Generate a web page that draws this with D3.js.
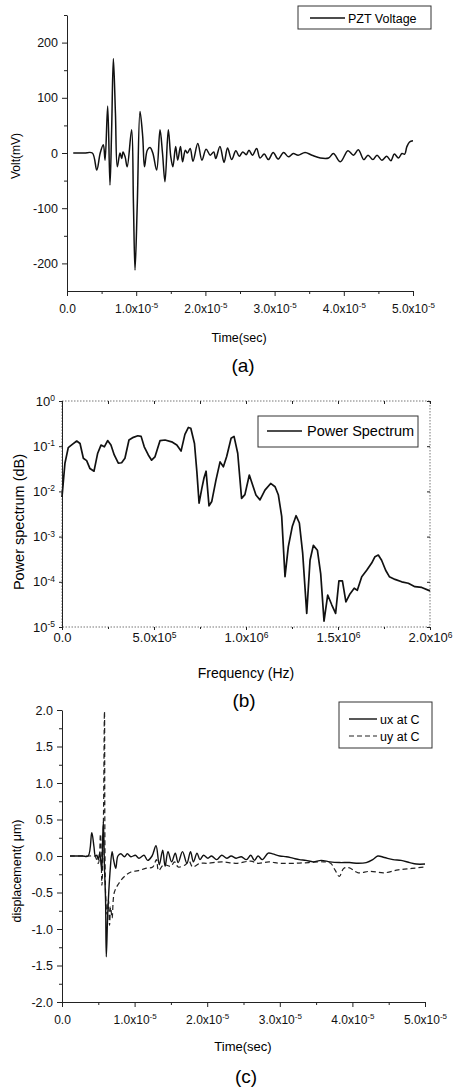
<!DOCTYPE html>
<html>
<head>
<meta charset="utf-8">
<script src="https://cdn.jsdelivr.net/npm/d3@7"></script>
<style>
  body { margin: 0; background: #fff; }
  svg { font-family: Arial, "Liberation Sans", Helvetica, sans-serif; }
  .axis path, .axis line { stroke: #222; }
  .axis text { fill: #111; }
  .frame { fill: none; stroke: #777; stroke-dasharray: 1.5,1.5; }
</style>
</head>
<body>
<svg id="chart" width="457" height="1090"></svg>
<script>
// time values are in units of 1e-5 s, frequency in units of 1e5 Hz

// (a) PZT voltage [t, mV]
const voltage = [
  [0.09, 0], [0.25, 0], [0.366, 0], [0.43, -31], [0.48, 0], [0.525, 15], [0.55, -13], [0.588, 85],
  [0.621, -58], [0.645, 42], [0.67, 171], [0.70, 72], [0.727, -25], [0.766, 0], [0.79, -10],
  [0.81, 2], [0.84, -7], [0.87, -25], [0.934, 42], [0.96, -91], [0.983, -212], [1.016, -91],
  [1.055, 75], [1.094, 30], [1.12, -25], [1.16, 5], [1.2, 10], [1.24, 0], [1.296, -31],
  [1.344, 42], [1.38, 0], [1.416, -52], [1.464, 42], [1.5, -7], [1.53, -25], [1.57, 12],
  [1.6, -13], [1.64, 12], [1.67, -16], [1.71, 5], [1.74, 0], [1.78, 8], [1.82, -15],
  [1.89, 17], [1.95, -13], [2.01, 7], [2.07, -4], [2.12, 2], [2.15, -10], [2.21, 12],
  [2.27, -17], [2.32, 9], [2.38, -12], [2.44, 4], [2.49, -6], [2.54, 2], [2.59, -3],
  [2.63, 5], [2.68, -4], [2.74, 8], [2.79, -9], [2.85, -2], [2.91, -12], [2.98, 1],
  [3.05, -11], [3.13, 1], [3.20, -7], [3.27, -1], [3.34, -4], [3.44, 1], [3.54, -4],
  [3.66, -9], [3.78, -9], [3.85, -1], [3.95, -16], [4.06, 4], [4.14, -4], [4.21, 6],
  [4.29, -12], [4.35, -4], [4.42, -12], [4.48, -4], [4.55, -13], [4.62, -6], [4.68, -14],
  [4.73, -2], [4.79, -9], [4.84, -1], [4.88, -2], [4.91, 11], [4.95, 20], [5.0, 22]
]

// (b) power spectrum [f, value]
const spectrum = [
  [0, 0.0075], [0.16, 0.042], [0.34, 0.093], [0.56, 0.11], [0.8, 0.13], [0.98, 0.115],
  [1.16, 0.054], [1.34, 0.048], [1.52, 0.032], [1.74, 0.028], [1.94, 0.07], [2.12, 0.106],
  [2.3, 0.097], [2.48, 0.133], [2.66, 0.106], [2.84, 0.064], [3.06, 0.042], [3.24, 0.043],
  [3.42, 0.054], [3.64, 0.137], [3.88, 0.157], [4.12, 0.17], [4.3, 0.165], [4.47, 0.097],
  [4.69, 0.064], [4.87, 0.049], [5.05, 0.058], [5.33, 0.133], [5.6, 0.137], [5.96, 0.125],
  [6.24, 0.106], [6.47, 0.078], [6.68, 0.183], [6.87, 0.26], [7.0, 0.25], [7.2, 0.115],
  [7.33, 0.027], [7.45, 0.0055], [7.6, 0.0117], [7.72, 0.02], [7.83, 0.028], [7.99, 0.0048],
  [8.14, 0.006], [8.37, 0.018], [8.59, 0.045], [8.77, 0.035], [8.95, 0.059], [9.19, 0.15],
  [9.35, 0.165], [9.55, 0.07], [9.76, 0.007], [9.94, 0.0085], [10.18, 0.023], [10.54, 0.0083],
  [10.76, 0.0065], [11.03, 0.0107], [11.34, 0.015], [11.58, 0.0127], [11.76, 0.0083],
  [11.94, 0.0028], [12.12, 1.3e-4], [12.3, 6e-4], [12.52, 0.0017], [12.72, 0.0029],
  [12.9, 0.002], [13.08, 4.3e-4], [13.3, 2e-5], [13.48, 3e-4], [13.66, 6.4e-4], [13.88, 5e-4],
  [14.06, 1.5e-4], [14.24, 1.35e-5], [14.44, 5.1e-5], [14.66, 3.1e-5], [14.87, 2e-5],
  [15.05, 1.05e-4], [15.24, 1.05e-4], [15.43, 3.6e-5], [15.65, 5.4e-5], [15.88, 7.2e-5],
  [16.05, 6.5e-5], [16.29, 1.3e-4], [16.56, 1.8e-4], [16.83, 2.6e-4], [17.01, 3.6e-4],
  [17.19, 3.9e-4], [17.37, 3e-4], [17.59, 1.8e-4], [17.79, 1.3e-4], [18.1, 1.13e-4],
  [18.46, 1.0e-4], [18.82, 9.3e-5], [19.18, 7.8e-5], [19.55, 7.5e-5], [20, 6.3e-5]
]

// (c) displacement at C [t, um]
const ux = [
  [0.11, 0], [0.28, 0], [0.36, 0], [0.41, 0.32], [0.44, 0.13], [0.46, 0], [0.48, 0.01], [0.5, -0.05],
  [0.52, 0.04], [0.547, -0.19], [0.56, 0.22], [0.57, 0.47], [0.585, -0.15], [0.6, -0.6],
  [0.61, -1.38], [0.63, -0.79], [0.66, -0.24], [0.69, 0.06], [0.71, -0.05], [0.74, -0.17],
  [0.77, 0], [0.81, 0.03], [0.86, -0.01], [0.9, 0.03], [0.95, -0.01], [1.01, 0.01],
  [1.06, -0.03], [1.13, 0.01], [1.18, -0.06], [1.24, 0], [1.295, 0.14], [1.34, -0.12],
  [1.387, 0.08], [1.42, -0.14], [1.46, 0.06], [1.51, -0.08], [1.56, 0.04], [1.6, -0.09],
  [1.66, 0.06], [1.72, -0.1], [1.77, 0.06], [1.81, -0.08], [1.86, 0.04], [1.9, -0.05],
  [1.95, 0.01], [2.01, -0.03], [2.06, 0], [2.13, -0.05], [2.2, 0.01], [2.27, -0.03],
  [2.33, 0], [2.4, -0.03], [2.47, -0.01], [2.54, -0.05], [2.6, 0.01], [2.65, -0.06],
  [2.7, 0], [2.76, -0.05], [2.84, 0.04], [2.9, 0.03], [3.0, 0], [3.09, -0.01], [3.18, -0.03],
  [3.27, -0.05], [3.36, -0.06], [3.46, -0.08], [3.57, -0.06], [3.69, -0.08], [3.82, -0.09],
  [3.96, -0.09], [4.08, -0.1], [4.19, -0.09], [4.28, -0.05], [4.35, 0], [4.44, -0.02],
  [4.56, -0.05], [4.67, -0.06], [4.79, -0.09], [4.88, -0.11], [5.0, -0.11]
]
const uy = [
  [0.11, 0], [0.38, 0], [0.45, 0], [0.5, -0.1], [0.53, 0.3], [0.55, -0.4], [0.57, 0.45], [0.585, 1.98],
  [0.6, -0.5], [0.62, -0.8], [0.64, -0.6], [0.655, -0.95], [0.67, -0.7], [0.69, -0.85],
  [0.72, -0.5], [0.78, -0.38], [0.86, -0.28], [0.95, -0.22], [1.05, -0.2], [1.15, -0.17],
  [1.25, -0.15], [1.3, -0.05], [1.33, -0.2], [1.4, -0.12], [1.5, -0.14], [1.55, -0.08],
  [1.6, -0.15], [1.7, -0.12], [1.75, -0.07], [1.8, -0.15], [1.9, -0.1], [2.0, -0.1],
  [2.2, -0.08], [2.4, -0.1], [2.6, -0.07], [2.7, -0.1], [2.85, -0.08], [3.0, -0.1],
  [3.2, -0.1], [3.4, -0.09], [3.6, -0.08], [3.7, -0.1], [3.76, -0.19], [3.82, -0.28],
  [3.88, -0.17], [3.95, -0.16], [4.08, -0.23], [4.24, -0.21], [4.44, -0.23], [4.63, -0.19],
  [4.82, -0.17], [5.0, -0.15]
]

// tick values
const timeTicks = [0, 1, 2, 3, 4, 5]
const timeMinor = [0.5, 1.5, 2.5, 3.5, 4.5]
const voltTicks = [-200, -100, 0, 100, 200]
const voltMinor = [-150, -50, 50, 150, 250]
const freqTicks = [0, 5, 10, 15, 20]
const freqMinor = [2.5, 7.5, 12.5, 17.5]
const freqMant = ['0.0', '5.0x10', '1.0x10', '1.5x10', '2.0x10']
const freqExp = ['', '5', '6', '6', '6']
const specTicks = [1, 1e-1, 1e-2, 1e-3, 1e-4, 1e-5]
const dispTicks = [-2, -1.5, -1, -0.5, 0, 0.5, 1, 1.5, 2]
const dispMinor = [-1.75, -1.25, -0.75, -0.25, 0.25, 0.75, 1.25, 1.75]

const svg = d3.select('#chart')
const hyphen = f => d => f(d).replace('\u2212', '-')

// put a superscript after the mantissa of a tick label
function sup(sel, mant, exp, size) {
  sel.text(null)
  sel.append('tspan').text(mant)
  if (exp) {
    sel.append('tspan')
      .attr('dy', '-0.55em')
      .attr('font-size', size)
      .text(exp)
  }
}

function timeLabel(sel) {
  sel.each(function (d) {
    const t = d3.select(this)
    if (d === 0) sup(t, '0.0')
    else sup(t, d.toFixed(1) + 'x10', '-5', 8)
  })
}

function minorAxis(g, axis, values, size) {
  g.append('g')
    .attr('class', 'axis')
    .call(axis.tickValues(values).tickSize(size).tickFormat('').tickSizeOuter(0))
    .call(s => s.select('.domain').remove())
}

function line(x, y, curve) {
  return d3.line().x(d => x(d[0])).y(d => y(d[1])).curve(curve || d3.curveLinear)
}

// ---------- (a) ----------
{
  const x = d3.scaleLinear().domain([0, 5]).range([67, 413])
  const y = d3.scaleLinear().domain([-250, 250]).range([291, 15])
  const g = svg.append('g')

  g.append('g')
    .attr('class', 'axis')
    .attr('transform', 'translate(0,291)')
    .call(d3.axisBottom(x).tickValues(timeTicks).tickSize(5).tickSizeOuter(0).tickPadding(8))
    .call(s => s.select('.domain').attr('stroke', '#666'))
    .call(s => s.selectAll('text').attr('font-size', 12).call(timeLabel))
  minorAxis(g.append('g').attr('transform', 'translate(0,291)'), d3.axisBottom(x), timeMinor, 3)

  g.append('g')
    .attr('class', 'axis')
    .attr('transform', 'translate(67,0)')
    .call(d3.axisLeft(y).tickValues(voltTicks).tickSize(5).tickSizeOuter(0).tickPadding(4)
      .tickFormat(hyphen(d3.format('d'))))
    .call(s => s.selectAll('text').attr('font-size', 12.5))
  minorAxis(g.append('g').attr('transform', 'translate(67,0)'), d3.axisLeft(y), voltMinor, 3)

  g.append('path')
    .datum(voltage)
    .attr('fill', 'none')
    .attr('stroke', '#111')
    .attr('stroke-width', 1.5)
    .attr('stroke-linejoin', 'round')
    .attr('d', line(x, y, d3.curveCatmullRom.alpha(0.5)))

  const lg = g.append('g')
  lg.append('rect').attr('x', 298).attr('y', 6).attr('width', 133).attr('height', 23)
    .attr('fill', '#fff').attr('stroke', '#333')
  lg.append('line').attr('x1', 310).attr('x2', 345).attr('y1', 18).attr('y2', 18)
    .attr('stroke', '#111').attr('stroke-width', 1.5)
  lg.append('text').attr('x', 348).attr('y', 22.5).attr('font-size', 12.5).text('PZT Voltage')

  g.append('text')
    .attr('transform', 'translate(20,156) rotate(-90)')
    .attr('text-anchor', 'middle').attr('font-size', 12).text('Volt(mV)')
  g.append('text')
    .attr('x', 239).attr('y', 342)
    .attr('text-anchor', 'middle').attr('font-size', 12.5).text('Time(sec)')
  g.append('text')
    .attr('x', 243).attr('y', 372)
    .attr('text-anchor', 'middle').attr('font-size', 19).text('(a)')
}

// ---------- (b) ----------
{
  const x = d3.scaleLinear().domain([0, 20]).range([62, 430])
  const y = d3.scaleLog().domain([1e-5, 1]).range([627, 401])
  const g = svg.append('g')

  g.append('rect').attr('class', 'frame')
    .attr('x', 62).attr('y', 401).attr('width', 368).attr('height', 226)

  g.append('g')
    .attr('class', 'axis')
    .attr('transform', 'translate(0,627)')
    .call(d3.axisBottom(x).tickValues(freqTicks).tickSize(3).tickSizeOuter(0).tickPadding(3))
    .call(s => s.select('.domain').remove())
    .call(s => s.selectAll('line').attr('stroke', '#777'))
    .call(s => s.selectAll('text').attr('font-size', 13)
      .each(function (d, i) { sup(d3.select(this), freqMant[i], freqExp[i], 8.5) }))
  minorAxis(g.append('g').attr('transform', 'translate(0,627)'), d3.axisBottom(x), freqMinor, 2)

  g.append('g')
    .attr('class', 'axis')
    .attr('transform', 'translate(0,401)')
    .call(d3.axisBottom(x).tickValues(freqTicks.concat(freqMinor)).tickSize(3).tickFormat('').tickSizeOuter(0))
    .call(s => s.select('.domain').remove())
    .call(s => s.selectAll('line').attr('stroke', '#777'))

  g.append('g')
    .attr('class', 'axis')
    .attr('transform', 'translate(430,0)')
    .call(d3.axisLeft(y).tickValues(specTicks).tickSize(3).tickFormat('').tickSizeOuter(0))
    .call(s => s.select('.domain').remove())
    .call(s => s.selectAll('line').attr('stroke', '#777'))

  g.append('g')
    .attr('class', 'axis')
    .attr('transform', 'translate(62,0)')
    .call(d3.axisLeft(y).tickValues(specTicks).tickSize(3).tickSizeOuter(0).tickPadding(4))
    .call(s => s.select('.domain').attr('stroke', '#555'))
    .call(s => s.selectAll('text').attr('font-size', 13)
      .each(function (d) { sup(d3.select(this), '10', String(Math.round(Math.log10(d))), 8.5) }))

  g.append('path')
    .datum(spectrum)
    .attr('fill', 'none')
    .attr('stroke', '#111')
    .attr('stroke-width', 1.7)
    .attr('stroke-linejoin', 'round')
    .attr('d', line(x, y))

  const lg = g.append('g')
  lg.append('rect').attr('x', 258).attr('y', 416).attr('width', 160).attr('height', 31)
    .attr('fill', '#fff').attr('stroke', '#333')
  lg.append('line').attr('x1', 267).attr('x2', 302).attr('y1', 431).attr('y2', 431)
    .attr('stroke', '#111').attr('stroke-width', 1.7)
  lg.append('text').attr('x', 307).attr('y', 436).attr('font-size', 14.5).text('Power Spectrum')

  g.append('text')
    .attr('transform', 'translate(24,522) rotate(-90)')
    .attr('text-anchor', 'middle').attr('font-size', 14.5).text('Power spectrum (dB)')
  g.append('text')
    .attr('x', 246).attr('y', 678)
    .attr('text-anchor', 'middle').attr('font-size', 14).text('Frequency (Hz)')
  g.append('text')
    .attr('x', 244).attr('y', 707)
    .attr('text-anchor', 'middle').attr('font-size', 19).text('(b)')
}

// ---------- (c) ----------
{
  const x = d3.scaleLinear().domain([0, 5]).range([62, 425])
  const y = d3.scaleLinear().domain([-2, 2]).range([1002, 710])
  const g = svg.append('g')

  g.append('g')
    .attr('class', 'axis')
    .attr('transform', 'translate(0,1002)')
    .call(d3.axisBottom(x).tickValues(timeTicks).tickSize(5).tickSizeOuter(0).tickPadding(8))
    .call(s => s.selectAll('text').attr('font-size', 12).call(timeLabel))
  minorAxis(g.append('g').attr('transform', 'translate(0,1002)'), d3.axisBottom(x), timeMinor, 3)

  g.append('g')
    .attr('class', 'axis')
    .attr('transform', 'translate(62,0)')
    .call(d3.axisLeft(y).tickValues(dispTicks).tickSize(5).tickSizeOuter(0).tickPadding(4)
      .tickFormat(hyphen(d3.format('.1f'))))
    .call(s => s.selectAll('text').attr('font-size', 12.5))
  minorAxis(g.append('g').attr('transform', 'translate(62,0)'), d3.axisLeft(y), dispMinor, 3)

  const smooth = d3.curveCatmullRom.alpha(0.5)
  g.append('path')
    .datum(uy)
    .attr('fill', 'none')
    .attr('stroke', '#222')
    .attr('stroke-width', 1.2)
    .attr('stroke-dasharray', '5,3')
    .attr('d', line(x, y, smooth))
  g.append('path')
    .datum(ux)
    .attr('fill', 'none')
    .attr('stroke', '#111')
    .attr('stroke-width', 1.4)
    .attr('stroke-linejoin', 'round')
    .attr('d', line(x, y, smooth))

  const lg = g.append('g')
  lg.append('rect').attr('x', 339).attr('y', 702).attr('width', 93).attr('height', 46)
    .attr('fill', '#fff').attr('stroke', '#333')
  lg.append('line').attr('x1', 349).attr('x2', 377).attr('y1', 719).attr('y2', 719)
    .attr('stroke', '#111').attr('stroke-width', 1.4)
  lg.append('line').attr('x1', 349).attr('x2', 377).attr('y1', 736).attr('y2', 736)
    .attr('stroke', '#222').attr('stroke-width', 1.2).attr('stroke-dasharray', '5,3')
  lg.append('text').attr('x', 380).attr('y', 723.5).attr('font-size', 12.5).text('ux at C')
  lg.append('text').attr('x', 380).attr('y', 740.5).attr('font-size', 12.5).text('uy at C')

  g.append('text')
    .attr('transform', 'translate(21,871) rotate(-90)')
    .attr('text-anchor', 'middle').attr('font-size', 12.5).text('displacement( μm)')
  g.append('text')
    .attr('x', 243).attr('y', 1051)
    .attr('text-anchor', 'middle').attr('font-size', 13).text('Time(sec)')
  g.append('text')
    .attr('x', 246).attr('y', 1083)
    .attr('text-anchor', 'middle').attr('font-size', 19).text('(c)')
}
</script>
</body>
</html>
